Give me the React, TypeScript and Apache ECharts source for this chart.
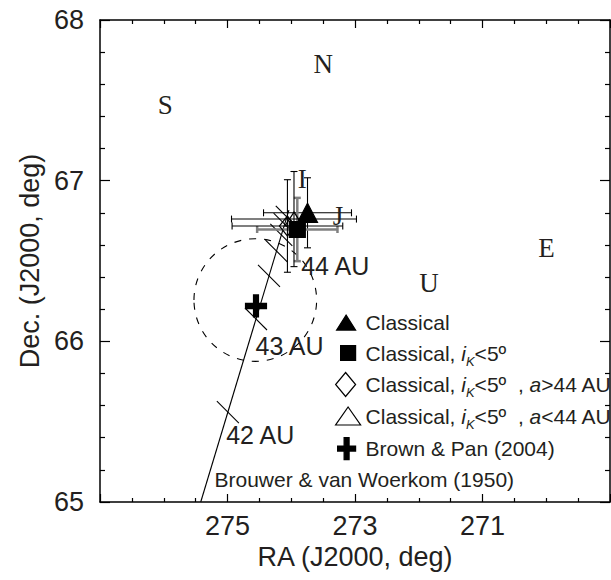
import React, { useEffect, useRef } from 'react';
import * as echarts from 'echarts';

// ---- axis ranges / ticks ----
const raMin = 269;
const raMax = 277;
const decMin = 65;
const decMax = 68;

// ---- pole positions of the mean planes (legend series) ----
const seriesNames = [
  'Classical',
  'Classical, iK<5º',
  'Classical, iK<5º, a>44 AU',
  'Classical, iK<5º, a<44 AU',
  'Brown & Pan (2004)',
];
const poleRA = [273.745, 273.905, 274.06, 273.957, 274.553];
const poleDec = [66.8, 66.696, 66.718, 66.761, 66.22];
const raErr = [0.69, 0.63, 0.868, 0.98, 0];
const decErr = [0.218, 0.197, 0.288, 0.296, 0];

// Brown & Pan uncertainty circle (centre and radius, in RA / Dec degrees)
const circleRA = [274.564];
const circleDec = [66.257];
const circleRadRA = [0.962];
const circleRadDec = [0.3815];

// ---- Brouwer & van Woerkom (1950) forced-plane pole track ----
const trackRA = [275.42, 274.037];
const trackDec = [65.0, 66.817];
const trackTickAU = [42, 43, 44, 45, 46, 47, 48];
const trackTickRA = [274.994, 274.553, 274.349, 274.231, 274.156, 274.104, 274.07];
const trackTickDec = [65.56, 66.139, 66.407, 66.562, 66.662, 66.73, 66.774];

// annotation texts
const auLabels = ['44 AU', '43 AU', '42 AU', 'Brouwer & van Woerkom (1950)'];
const auLabelRA = [273.836, 274.553, 275.013, 275.196];
const auLabelDec = [66.465, 65.968, 65.411, 65.14];
const auLabelSizes = [25, 25, 25, 21];

// planetary / reference plane poles
const planeLetters = ['N', 'S', 'U', 'E', 'I', 'J'];
const planeRA = [273.49, 275.97, 271.83, 269.99, 273.82, 273.26];
const planeDec = [67.72, 67.47, 66.36, 66.575, 67.01, 66.78];

// ---- styling ----
const SANS = "'Liberation Sans', Arial, Helvetica, sans-serif";
const SERIF = "'Liberation Serif', 'Times New Roman', serif";
const INK = '#231f20';

const plusPath = 'path://M8,0H13V8H21V13H13V21H8V13H0V8H8Z';
const plotSymbols = ['triangle', 'rect', 'diamond', 'triangle', plusPath];
const plotSizes = [[20, 19], [16, 16], [16, 20], [18, 14], [21, 22]];
const plotFills = ['#000', '#000', 'rgba(255,255,255,0)', 'rgba(255,255,255,0)', '#000'];
const plotZ = [6, 7, 5, 5, 6];
const errColors = ['#000', '#808080', '#000', '#000', '#000'];
const errWidths = [1.1, 2.5, 1.1, 1.1, 1.1];

// legend icons in a 25x24 frame (the two leading moves fix the frame)
const frame = 'path://M0,0M25,24';
const legendIcons = [
  frame + 'M10.5,4.5L20,19.5L1,19.5Z',
  frame + 'M5,4.5H20V19.5H5Z',
  frame + 'M10,0L20,12L10,24L0,12Z',
  frame + 'M12.5,3L25,21L0,21Z',
  frame + 'M8.5,1H13.5V9.5H20V14.5H13.5V23H8.5V14.5H2V9.5H8.5Z',
];
const legendRich: Record<string, string> = {
  'Classical': 'Classical',
  'Classical, iK<5º': 'Classical, {it|i}{sub|K}<5º',
  'Classical, iK<5º, a>44 AU': 'Classical, {it|i}{sub|K}<5º  , {it|a}>44 AU',
  'Classical, iK<5º, a<44 AU': 'Classical, {it|i}{sub|K}<5º  , {it|a}<44 AU',
  'Brown & Pan (2004)': 'Brown & Pan (2004)',
};

function buildOption() {
  const axisLineStyle = { color: '#000', width: 1.5 };
  const tickStyle = { color: '#000', width: 1.2 };

  const xCommon = {
    type: 'value',
    min: raMin,
    max: raMax,
    interval: 2,
    inverse: true,
    splitLine: { show: false },
    axisLine: { show: true, onZero: false, lineStyle: axisLineStyle },
    axisTick: { show: true, inside: true, length: 8, lineStyle: tickStyle },
    minorTick: { show: true, splitNumber: 4, length: 4, lineStyle: tickStyle },
    minorSplitLine: { show: false },
  };
  const yCommon = {
    type: 'value',
    min: decMin,
    max: decMax,
    interval: 1,
    splitLine: { show: false },
    axisLine: { show: true, onZero: false, lineStyle: axisLineStyle },
    axisTick: { show: true, inside: true, length: 10, lineStyle: tickStyle },
    minorTick: { show: true, splitNumber: 5, length: 5, lineStyle: tickStyle },
    minorSplitLine: { show: false },
  };

  const series: any[] = [];

  // track line
  series.push({
    type: 'line',
    name: 'track',
    data: trackRA.map((r, i) => [r, trackDec[i]]),
    symbol: 'none',
    lineStyle: { color: '#000', width: 1.1 },
    silent: true,
    z: 2,
  });

  // track ticks (semi-major axis marks)
  series.push({
    type: 'custom',
    name: 'trackTicks',
    data: trackTickRA.map((r, i) => [r, trackTickDec[i], trackTickAU[i]]),
    dimensions: ['ra', 'dec', 'au'],
    encode: { x: 0, y: 1 },
    silent: true,
    z: 2,
    renderItem: (params: any, api: any) => {
      const p = api.coord([api.value(0), api.value(1)]);
      const h = 11;
      return {
        type: 'line',
        shape: { x1: p[0] - h, y1: p[1] - h, x2: p[0] + h, y2: p[1] + h },
        style: { stroke: '#000', lineWidth: 1.1, fill: 'none' },
      };
    },
  });

  // dashed uncertainty circle
  series.push({
    type: 'custom',
    name: 'circle',
    data: circleRA.map((r, i) => [r, circleDec[i], circleRadRA[i], circleRadDec[i]]),
    dimensions: ['ra', 'dec', 'rra', 'rdec'],
    encode: { x: 0, y: 1 },
    silent: true,
    z: 2,
    renderItem: (params: any, api: any) => {
      const c = api.coord([api.value(0), api.value(1)]);
      const s = api.size([api.value(2) * 2, api.value(3) * 2], [api.value(0), api.value(1)]);
      return {
        type: 'ellipse',
        shape: { cx: c[0], cy: c[1], rx: s[0] / 2, ry: s[1] / 2 },
        style: { stroke: '#000', lineWidth: 1.1, fill: 'none', lineDash: [7, 8] },
      };
    },
  });

  // error bars
  const errData = poleRA
    .map((r, i) => [r, poleDec[i], raErr[i], decErr[i], i])
    .filter((d) => d[2] > 0 || d[3] > 0);
  series.push({
    type: 'custom',
    name: 'errors',
    data: errData,
    dimensions: ['ra', 'dec', 'ex', 'ey', 'idx'],
    encode: { x: 0, y: 1 },
    silent: true,
    z: 3,
    renderItem: (params: any, api: any) => {
      const ra = api.value(0);
      const dec = api.value(1);
      const ex = api.value(2);
      const ey = api.value(3);
      const k = api.value(4);
      const l = api.coord([ra + ex, dec]);
      const r = api.coord([ra - ex, dec]);
      const t = api.coord([ra, dec + ey]);
      const b = api.coord([ra, dec - ey]);
      const cap = 3.5;
      const style = { stroke: errColors[k], lineWidth: errWidths[k], fill: 'none' };
      const ln = (x1: number, y1: number, x2: number, y2: number) => ({
        type: 'line',
        shape: { x1, y1, x2, y2 },
        style,
      });
      return {
        type: 'group',
        children: [
          ln(l[0], l[1], r[0], r[1]),
          ln(l[0], l[1] - cap, l[0], l[1] + cap),
          ln(r[0], r[1] - cap, r[0], r[1] + cap),
          ln(t[0], t[1], b[0], b[1]),
          ln(t[0] - cap, t[1], t[0] + cap, t[1]),
          ln(b[0] - cap, b[1], b[0] + cap, b[1]),
        ],
      };
    },
  });

  // pole symbols (legend series)
  seriesNames.forEach((name, i) => {
    series.push({
      type: 'scatter',
      name,
      data: [[poleRA[i], poleDec[i]]],
      symbol: plotSymbols[i],
      symbolSize: plotSizes[i],
      itemStyle: { color: plotFills[i], borderColor: '#000', borderWidth: 1.2, opacity: 1 },
      silent: true,
      z: plotZ[i],
    });
  });

  // annotations
  series.push({
    type: 'scatter',
    name: 'annotations',
    data: auLabelRA.map((r, i) => ({
      value: [r, auLabelDec[i]],
      name: auLabels[i],
      label: { fontSize: auLabelSizes[i] },
    })),
    symbolSize: 1,
    itemStyle: { color: 'rgba(0,0,0,0)', opacity: 1 },
    silent: true,
    z: 8,
    label: {
      show: true,
      formatter: '{b}',
      position: [0, 0],
      align: 'left',
      verticalAlign: 'middle',
      color: INK,
      opacity: 1,
      fontFamily: SANS,
      fontSize: 25,
    },
  });

  series.push({
    type: 'scatter',
    name: 'planes',
    data: planeRA.map((r, i) => ({ value: [r, planeDec[i]], name: planeLetters[i] })),
    symbolSize: 1,
    itemStyle: { color: 'rgba(0,0,0,0)', opacity: 1 },
    silent: true,
    z: 4,
    label: {
      show: true,
      formatter: '{b}',
      position: [0, 0],
      align: 'center',
      verticalAlign: 'middle',
      color: INK,
      opacity: 1,
      fontFamily: SERIF,
      fontSize: 27,
    },
  });

  // one legend block per row so that every row sits at the reference pitch
  const legends = seriesNames.map((n, i) => {
    const hasSub = legendRich[n].indexOf('{sub|') >= 0;
    return {
      show: true,
      orient: 'vertical',
      left: 335,
      top: 310 + i * 31.5 - (hasSub ? 3 : 0),
      itemWidth: 25,
      itemHeight: 24,
      padding: 0,
      selectedMode: false,
      symbolKeepAspect: true,
      itemStyle: { borderWidth: 1.2 },
      data: [{ name: n, icon: legendIcons[i] }],
      formatter: (name: string) => legendRich[name] || name,
      textStyle: {
        color: INK,
        fontFamily: SANS,
        fontSize: 21,
        lineHeight: 24,
        rich: {
          it: { fontStyle: 'italic', fontFamily: SANS, fontSize: 21, lineHeight: 24, color: INK },
          sub: {
            fontStyle: 'italic',
            fontFamily: SANS,
            fontSize: 13,
            lineHeight: 24,
            color: INK,
            padding: [16, 0, 0, 0],
          },
        },
      },
    };
  });

  return {
    animation: false,
    backgroundColor: '#fff',
    grid: { left: 100, right: 1, top: 20, bottom: 78, containLabel: false },
    xAxis: [
      {
        ...xCommon,
        position: 'bottom',
        axisLabel: {
          show: true,
          margin: 10,
          showMinLabel: false,
          showMaxLabel: false,
          color: INK,
          fontFamily: SANS,
          fontSize: 27,
        },
        name: 'RA (J2000, deg)',
        nameLocation: 'middle',
        nameGap: 35,
        nameTextStyle: { color: INK, fontFamily: SANS, fontSize: 27 },
      },
      { ...xCommon, position: 'top', axisLabel: { show: false } },
    ],
    yAxis: [
      {
        ...yCommon,
        position: 'left',
        axisLabel: { show: true, margin: 16, color: INK, fontFamily: SANS, fontSize: 27 },
        name: 'Dec. (J2000, deg)',
        nameLocation: 'middle',
        nameGap: 56,
        nameTextStyle: { color: INK, fontFamily: SANS, fontSize: 27 },
      },
      { ...yCommon, position: 'right', axisLabel: { show: false } },
    ],
    legend: legends,
    series,
  };
}

export default function App() {
  const ref = useRef<HTMLDivElement>(null);
  useEffect(() => {
    if (!ref.current) return;
    const chart = echarts.init(ref.current, null, { renderer: 'svg' });
    chart.setOption(buildOption() as any);
    return () => chart.dispose();
  }, []);
  return (
    <div
      ref={ref}
      style={{ position: 'absolute', left: 0, top: 0, width: 611, height: 580, background: '#fff' }}
    />
  );
}
